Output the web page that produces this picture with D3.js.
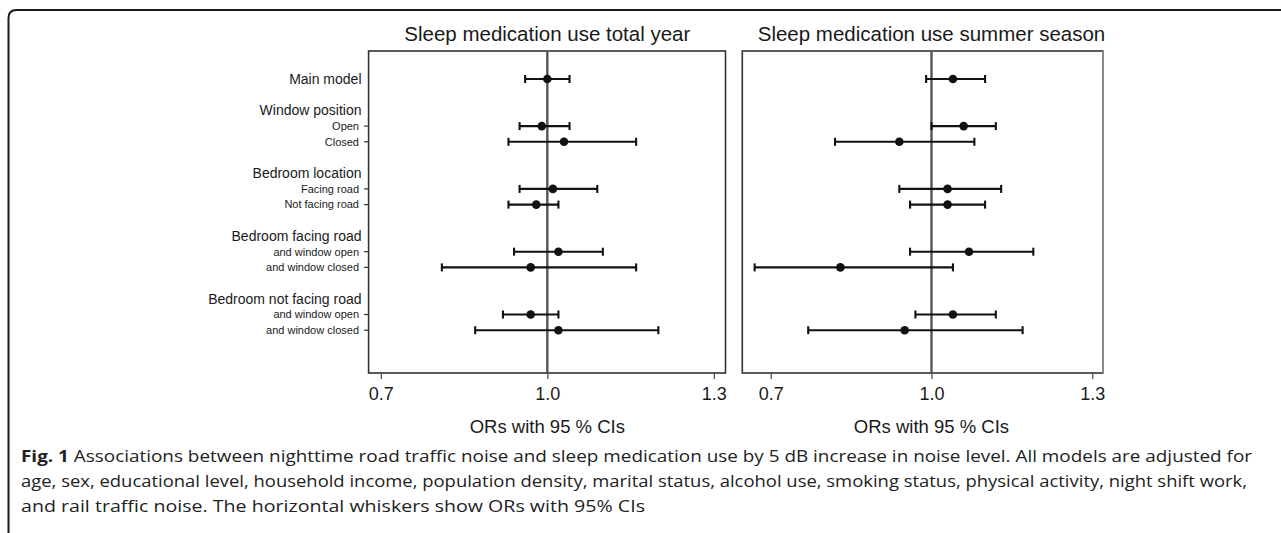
<!DOCTYPE html>
<html>
<head>
<meta charset="utf-8">
<script src="https://cdn.jsdelivr.net/npm/d3@7"></script>
<style>
  html, body { margin: 0; padding: 0; background: #fff; }
  svg { display: block; }
  .plot text { font-family: "Liberation Sans", Arial, sans-serif; fill: #1a1a1a; }
  .caption { font-family: "Open Sans", "Noto Sans", sans-serif; fill: #222; }
</style>
</head>
<body>
<svg id="fig" width="1281" height="533"></svg>
<script>
// Row labels on the left, with their vertical slot (blank slots separate the groups)
const rowLabels = ["Main model", "Window position", "Open", "Closed",
  "Bedroom location", "Facing road", "Not facing road",
  "Bedroom facing road", "and window open", "and window closed",
  "Bedroom not facing road", "and window open", "and window closed"];
const rowSlots = [0, 2, 3, 4, 6, 7, 8, 10, 11, 12, 14, 15, 16];
const rowKinds = ["main", "group", "sub", "sub", "group", "sub", "sub",
  "group", "sub", "sub", "group", "sub", "sub"];

// Slots carrying an estimate (same order in every series below)
const estimateSlots = [0, 3, 4, 7, 8, 11, 12, 15, 16];

// Sleep medication use, total year: odds ratios and 95% CI bounds
const yearOR   = [1.00, 0.99, 1.03, 1.01, 0.98, 1.02, 0.97, 0.97, 1.02];
const yearLow  = [0.96, 0.95, 0.93, 0.95, 0.93, 0.94, 0.81, 0.92, 0.87];
const yearHigh = [1.04, 1.04, 1.16, 1.09, 1.02, 1.10, 1.16, 1.02, 1.20];

// Sleep medication use, summer season
const summerOR   = [1.04, 1.06, 0.94, 1.03, 1.03, 1.07, 0.83, 1.04, 0.95];
const summerLow  = [0.99, 1.00, 0.82, 0.94, 0.96, 0.96, 0.67, 0.97, 0.77];
const summerHigh = [1.10, 1.12, 1.08, 1.13, 1.10, 1.19, 1.04, 1.12, 1.17];

const panelTitles = ["Sleep medication use total year", "Sleep medication use summer season"];
const tickValues = [0.7, 1.0, 1.3];
const axisTitle = "ORs with 95 % CIs";

const captionBold = "Fig. 1";
const captionLines = [
  " Associations between nighttime road traffic noise and sleep medication use by 5 dB increase in noise level. All models are adjusted for",
  "age, sex, educational level, household income, population density, marital status, alcohol use, smoking status, physical activity, night shift work,",
  "and rail traffic noise. The horizontal whiskers show ORs with 95% CIs"
];
// Set widths of the caption lines in the page column
const captionWidths = [1231, 1226, 624];

const svg = d3.select("#fig");

// Outer figure frame with a rounded top-left corner
svg.append("path")
  .attr("d", "M8.5,545 L8.5,18 Q8.5,10 16.5,10 L1295,10")
  .attr("fill", "none").attr("stroke", "#1a1a1a").attr("stroke-width", 2);

const panelTop = 51, panelBottom = 373;
const y = d3.scaleLinear().domain([0, 16]).range([79, 330.2]);

const panels = [
  { title: panelTitles[0], x0: 368.6, x1: 725.5, domain: [0.678, 1.321],
    or: yearOR, lo: yearLow, hi: yearHigh },
  { title: panelTitles[1], x0: 742.3, x1: 1103, domain: [0.647, 1.320],
    or: summerOR, lo: summerLow, hi: summerHigh }
];

const plot = svg.append("g").attr("class", "plot");

// Row labels (left of the first panel)
const labelG = plot.append("g");
rowLabels.forEach((lab, i) => {
  const k = rowKinds[i];
  const yy = y(rowSlots[i]);
  labelG.append("text")
    .attr("x", k === "sub" ? 359 : 361.5)
    .attr("y", yy)
    .attr("dy", "0.35em")
    .attr("text-anchor", "end")
    .attr("font-size", k === "sub" ? 11 : 14)
    .text(lab);
  if (k === "sub") {
    labelG.append("line")
      .attr("x1", 364).attr("x2", panels[0].x0)
      .attr("y1", yy).attr("y2", yy)
      .attr("stroke", "#333").attr("stroke-width", 1.2);
  }
});

panels.forEach((p, pi) => {
  const x = d3.scaleLinear().domain(p.domain).range([p.x0, p.x1]);
  const g = plot.append("g");

  // Panel title
  g.append("text")
    .attr("x", x(1.0)).attr("y", 41)
    .attr("text-anchor", "middle")
    .attr("font-size", 20.5)
    .text(p.title);

  // Frame
  g.append("rect")
    .attr("x", p.x0).attr("y", panelTop)
    .attr("width", p.x1 - p.x0).attr("height", panelBottom - panelTop)
    .attr("fill", "none").attr("stroke", "#333").attr("stroke-width", 1.6);
  if (pi === 1) {
    g.append("line")
      .attr("x1", p.x1).attr("x2", p.x1).attr("y1", panelTop).attr("y2", panelBottom)
      .attr("stroke", "#8a8a8a").attr("stroke-width", 2);
  }

  // Null line at OR = 1
  g.append("line")
    .attr("x1", x(1)).attr("x2", x(1))
    .attr("y1", panelTop).attr("y2", panelBottom)
    .attr("stroke", "#555").attr("stroke-width", 2.4);

  // Bottom axis
  const ax = g.append("g")
    .attr("transform", `translate(0,${panelBottom})`)
    .call(d3.axisBottom(x).tickValues(tickValues)
      .tickFormat(d3.format(".1f")).tickSize(6).tickPadding(8));
  ax.select(".domain").remove();
  ax.selectAll(".tick line").attr("stroke", "#444").attr("stroke-width", 1.2);
  ax.selectAll(".tick text")
    .attr("font-family", "Liberation Sans, Arial, sans-serif")
    .attr("font-size", 18).attr("fill", "#1a1a1a");

  g.append("text")
    .attr("x", x(1.0)).attr("y", 433)
    .attr("text-anchor", "middle")
    .attr("font-size", 18.5)
    .text(axisTitle);

  // Whiskers, caps and points
  const rows = estimateSlots.map((s, i) => ({ s, or: p.or[i], lo: p.lo[i], hi: p.hi[i] }));
  const capH = 4;
  const eg = g.append("g").attr("stroke", "#111").attr("stroke-width", 2.1);
  eg.selectAll(".whisker").data(rows).join("line")
    .attr("x1", d => x(d.lo)).attr("x2", d => x(d.hi))
    .attr("y1", d => y(d.s)).attr("y2", d => y(d.s));
  eg.selectAll(".capL").data(rows).join("line")
    .attr("x1", d => x(d.lo)).attr("x2", d => x(d.lo))
    .attr("y1", d => y(d.s) - capH).attr("y2", d => y(d.s) + capH);
  eg.selectAll(".capR").data(rows).join("line")
    .attr("x1", d => x(d.hi)).attr("x2", d => x(d.hi))
    .attr("y1", d => y(d.s) - capH).attr("y2", d => y(d.s) + capH);
  g.append("g").selectAll("circle").data(rows).join("circle")
    .attr("cx", d => x(d.or)).attr("cy", d => y(d.s))
    .attr("r", 4.3).attr("fill", "#111");
});

// Figure caption
const cap = svg.append("g").attr("class", "caption").attr("font-size", 15.5);
const capY = [462, 487, 512];
captionLines.forEach((line, i) => {
  const t = cap.append("text").attr("x", 21).attr("y", capY[i])
    .attr("textLength", captionWidths[i])
    .attr("lengthAdjust", "spacingAndGlyphs");
  if (i === 0) {
    t.append("tspan").attr("font-weight", "bold").text(captionBold);
  }
  t.append("tspan").text(line);
});
</script>
</body>
</html>
